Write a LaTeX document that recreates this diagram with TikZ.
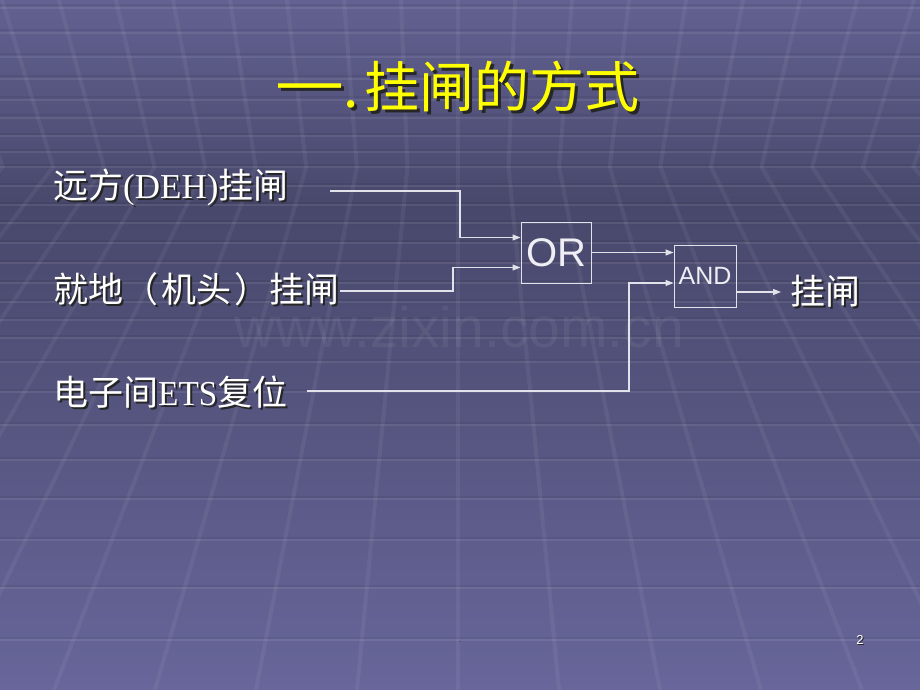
\documentclass[tikz,border=0pt]{standalone}
\usepackage{graphicx}
\usepackage{fontspec}
\setmainfont{Liberation Serif}
\setsansfont{Liberation Sans}
\newfontfamily\cjk{Noto Sans CJK SC}
\usetikzlibrary{arrows.meta}
\definecolor{bgtop}{RGB}{98,97,145}
\definecolor{bgmid}{RGB}{72,72,108}
\definecolor{bgbot}{RGB}{104,102,154}
\definecolor{wire}{RGB}{226,226,234}
\definecolor{gatetext}{RGB}{238,238,244}
\definecolor{titleyellow}{RGB}{255,255,0}
\pgfdeclareverticalshading{slidebg}{100bp}{color(0bp)=(bgbot); color(25bp)=(bgbot); color(60bp)=(bgmid); color(75bp)=(bgtop); color(100bp)=(bgtop)}
\newcommand{\dropshadow}[2][2pt]{\makebox[0pt][l]{\kern#1\raisebox{-#1}{\color{black!85}#2}}#2}

\begin{document}
\begin{tikzpicture}[x=1pt,y=-1pt,
    wire/.style={draw=wire,line width=1.1pt},
    flow/.style={wire,-{Triangle[length=8pt,width=6pt]}},
    gate/.style={draw=wire,line width=1pt,inner sep=0pt,text=gatetext},
    inlabel/.style={anchor=west,inner sep=0pt,text=white,font=\cjk\fontsize{35}{42}\selectfont},
    ray/.style={line width=4pt,white,opacity=0.055},
    tile/.style={line width=2pt,white,opacity=0.08},
    tileshade/.style={line width=2pt,black,opacity=0.06}]
  \useasboundingbox (0,0) rectangle (920,690);
  % background with the tiled room
  \shade[shading=slidebg] (0,0) rectangle (920,690);
  \begin{scope}
    \clip (0,0) rectangle (920,690);
    \foreach \y in {8,33,57,79,100,118,136,152,167,186,205,223,243,263,283,302,320,338,362,392,425,460,499,540,588,640} {
      \draw[tileshade] (0,\y-2.5) -- (920,\y-2.5);
      \draw[tile] (0,\y) -- (920,\y);
    }
    \foreach \k in {-12,...,12}
      \draw[ray] ({458+\k*57},0) -- ({458+\k*50.6},167) -- ({458+\k*101},690);
  \end{scope}
  \node[text=white,opacity=0.06,font=\sffamily\fontsize{57}{57}\selectfont] (mark) at (459,327) {www.zixin.com.cn};

  % title
  \node[anchor=west,inner sep=0pt,text=titleyellow,font=\cjk\fontsize{55}{60}\selectfont] (title) at (275,88)
    {\dropshadow[3pt]{\scalebox{1.25}[1]{一}.\kern5pt挂闸的方式}};

  % inputs
  \node[inlabel] (remote) at (53,188) {\dropshadow{远方{\rmfamily(DEH)}挂闸}};
  \node[inlabel] (local) at (53,290) {\dropshadow{就地（\kern3pt机头\kern3pt）挂闸}};
  \node[inlabel] (ets) at (53,393) {\dropshadow{电子间{\rmfamily\scalebox{0.95}[1]{ETS}}复位}};
  \coordinate (remoteend) at (330,191);
  \coordinate (localend) at (340,291);
  \coordinate (etsend) at (307,391);

  % gates
  \node[gate,minimum width=70pt,minimum height=61pt,font=\sffamily\fontsize{40}{40}\selectfont] (orgate) at (556,252.5) {OR};
  \node[gate,minimum width=62pt,minimum height=62pt,font=\sffamily\fontsize{25}{25}\selectfont] (andgate) at (705,276) {AND};
  \node[inlabel,inner xsep=9pt] (trip) at (781,292) {\dropshadow{挂闸}};

  \draw[flow] (remoteend) -- ++(130,0) |- ([yshift=15pt]orgate.west);
  \draw[flow] (localend) -- ++(113,0) |- ([yshift=-15pt]orgate.west);
  \draw[flow] (orgate.east) -- (orgate.east -| andgate.west);
  \draw[flow] (etsend) -- ++(322,0) |- ([yshift=-7pt]andgate.west);
  \draw[flow] (trip.west -| andgate.east) -- (trip.west);

  % footer
  \node[text=black!70,font=\sffamily\fontsize{10}{10}\selectfont] (dot) at (460,642) {.};
  \node[text=white,font=\sffamily\fontsize{13}{13}\selectfont] (pagenum) at (860,640) {\dropshadow[1pt]{2}};
\end{tikzpicture}
\end{document}
